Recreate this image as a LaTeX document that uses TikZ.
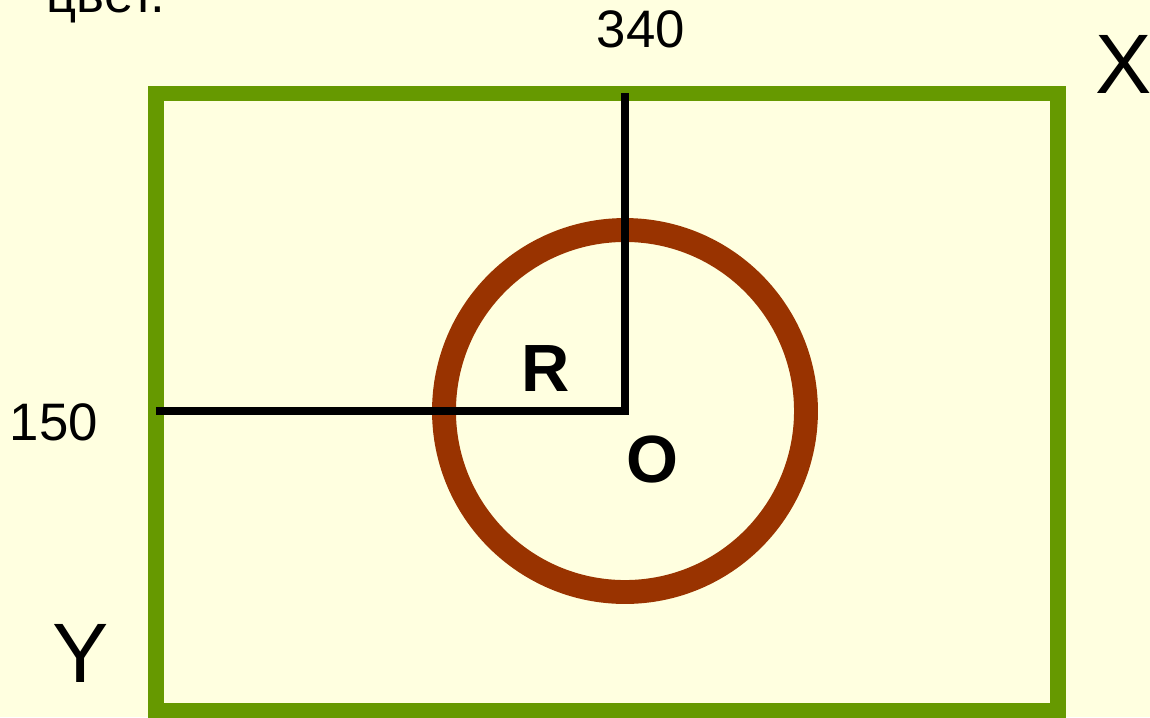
\documentclass[tikz,border=0pt]{standalone}
\usepackage{fontspec}
\setmainfont{Liberation Sans}
\usepackage{tikz}
\usetikzlibrary{positioning}
\definecolor{paleyellow}{HTML}{FFFFE0}
\definecolor{framegreen}{HTML}{669900}
\definecolor{ringbrown}{HTML}{993300}

\begin{document}
\begin{tikzpicture}[x=0.01cm, y=-0.01cm,
  frame/.style={draw=framegreen, line width=4.3pt},
  ring/.style={draw=ringbrown, line width=6.8pt},
  guide/.style={draw=black, line width=2.2pt},
  numlabel/.style={anchor=base, font=\fontsize{15pt}{18pt}\selectfont},
  axislabel/.style={anchor=base, font=\fontsize{24pt}{28pt}\selectfont},
  marklabel/.style={anchor=base, font=\fontsize{19pt}{22pt}\selectfont\bfseries}]
\fill[paleyellow] (0,0) rectangle (1150,717);
\useasboundingbox (0,0) rectangle (1150,717);
\node[anchor=base west, inner sep=0pt, font=\fontsize{15pt}{18pt}\selectfont] (caption) at (46,12) {цвет.};
\draw[frame] (156,93.5) rectangle (1058,711);
\coordinate (O) at (625,411);
\coordinate (top) at (625,93);
\coordinate (left) at (156,411);
\draw[ring] (O) circle[radius=181];
\draw[guide] (top) -- (O) -- (left);
\node[numlabel] (xval) at (641,47) {340};
\node[numlabel] (yval) at (54,440) {150};
\node[axislabel] (xaxis) at (1124,93) {X};
\node[axislabel] (yaxis) at (81,682) {Y};
\node[marklabel] (radius) at (546,391) {R};
\node[marklabel] (center) at (652,482) {O};
\end{tikzpicture}
\end{document}
